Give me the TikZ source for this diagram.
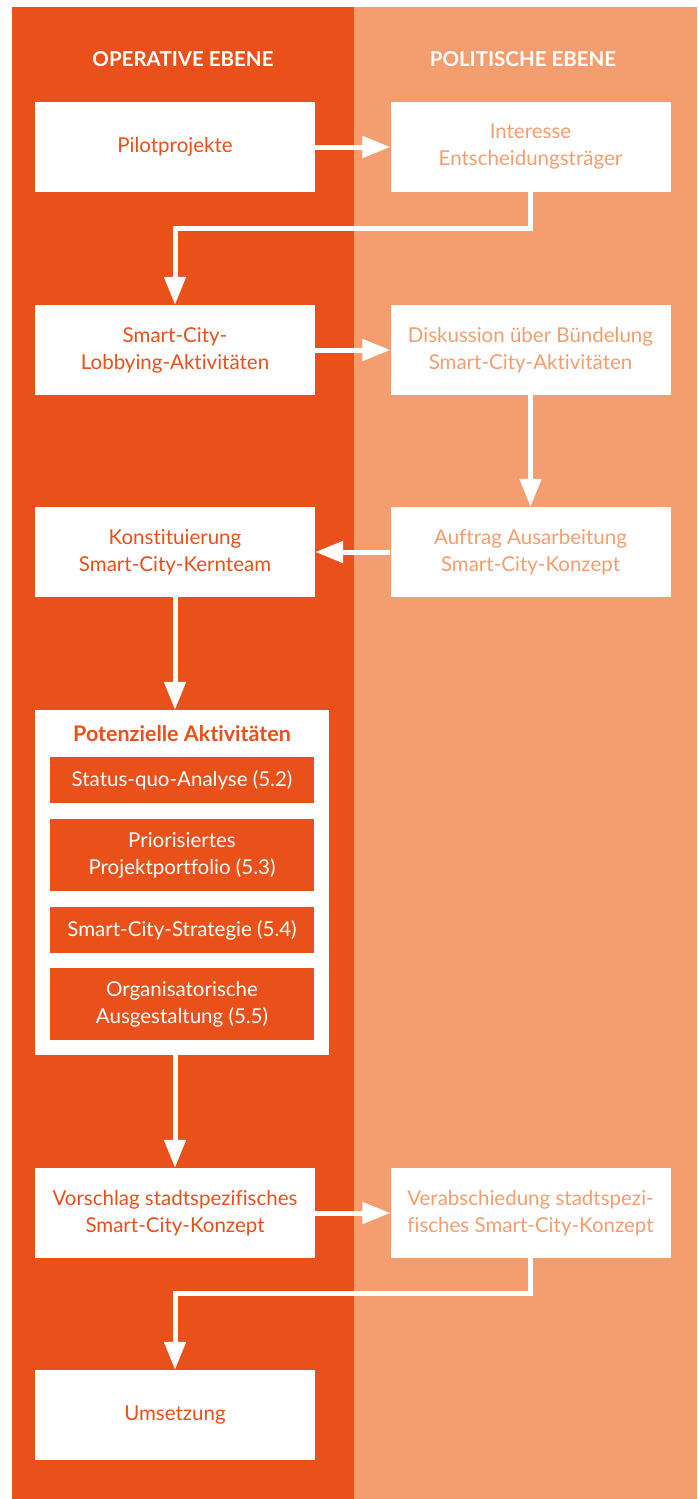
\documentclass[tikz,border=0pt]{standalone}
\usepackage{fontspec}
\setmainfont{Lato}[Ligatures={NoCommon}]
\usetikzlibrary{arrows.meta}
\definecolor{opred}{RGB}{233,80,26}
\definecolor{polred}{RGB}{244,158,112}

\begin{document}
\begin{tikzpicture}[x=1pt,y=-1pt,
    box/.style={fill=white,minimum width=280pt,minimum height=90pt,inner sep=0pt,
      align=center,font=\fontsize{20.5}{27}\selectfont},
    opbox/.style={box,text=opred},
    polbox/.style={box,text=polred},
    subbox/.style={fill=opred,text=white,minimum width=264pt,inner sep=0pt,
      align=center,font=\fontsize{20.5}{27}\selectfont},
    head/.style={text=white,font=\bfseries\fontsize{20.5}{24}\selectfont},
    flow/.style={white,line width=5pt,-{Triangle[length=28pt,width=21pt]}}]
  \useasboundingbox (0,0) rectangle (697,1499);
  % columns
  \fill[opred] (12,7) rectangle (354,1499);
  \fill[polred] (354,7) rectangle (697,1499);
  \node[head] (hop) at (183,59) {OPERATIVE EBENE};
  \node[head] (hpol) at (523,59) {POLITISCHE EBENE};

  % boxes
  \node[opbox] (pilot) at (175,147) {Pilotprojekte};
  \node[polbox] (inter) at (530.5,147) {Interesse\\Entscheidungsträger};
  \node[opbox] (lobby) at (175,350) {Smart-City-\\Lobbying-Aktivitäten};
  \node[polbox] (disk) at (530.5,350) {Diskussion über Bündelung\\Smart-City-Aktivitäten};
  \node[opbox] (konst) at (175,552) {Konstituierung\\Smart-City-Kernteam};
  \node[polbox] (auftrag) at (530.5,552) {Auftrag Ausarbeitung\\Smart-City-Konzept};

  \node[fill=white,minimum width=294pt,minimum height=345pt,inner sep=0pt] (pot) at (182,882.5) {};
  \node[text=opred,font=\bfseries\fontsize{21.5}{24}\selectfont] (pottitle) at (182,734) {Potenzielle Aktivitäten};
  \node[subbox,minimum height=46pt] (status) at (182,780) {Status-quo-Analyse (5.2)};
  \node[subbox,minimum height=72pt] (prio) at (182,855) {Priorisiertes\\Projektportfolio (5.3)};
  \node[subbox,minimum height=46pt] (strat) at (182,930) {Smart-City-Strategie (5.4)};
  \node[subbox,minimum height=72pt] (orga) at (182,1004) {Organisatorische\\Ausgestaltung (5.5)};

  \node[opbox] (vorschlag) at (175,1213) {Vorschlag stadtspezifisches\\Smart-City-Konzept};
  \node[polbox] (verab) at (530.5,1213) {Verabschiedung stadtspezi-\\fisches Smart-City-Konzept};
  \node[opbox] (umsetz) at (175,1415) {Umsetzung};

  % arrows
  \draw[flow] (pilot) -- (inter);
  \draw[flow] (inter.south) -- ++(0,36) -| (lobby.north);
  \draw[flow] (lobby) -- (disk);
  \draw[flow] (disk) -- (auftrag);
  \draw[flow] (auftrag) -- (konst);
  \draw[flow] (konst.south) -- (konst.south |- pot.north);
  \draw[flow] (vorschlag.north |- pot.south) -- (vorschlag.north);
  \draw[flow] (vorschlag) -- (verab);
  \draw[flow] (verab.south) -- ++(0,35) -| (umsetz.north);
\end{tikzpicture}
\end{document}
